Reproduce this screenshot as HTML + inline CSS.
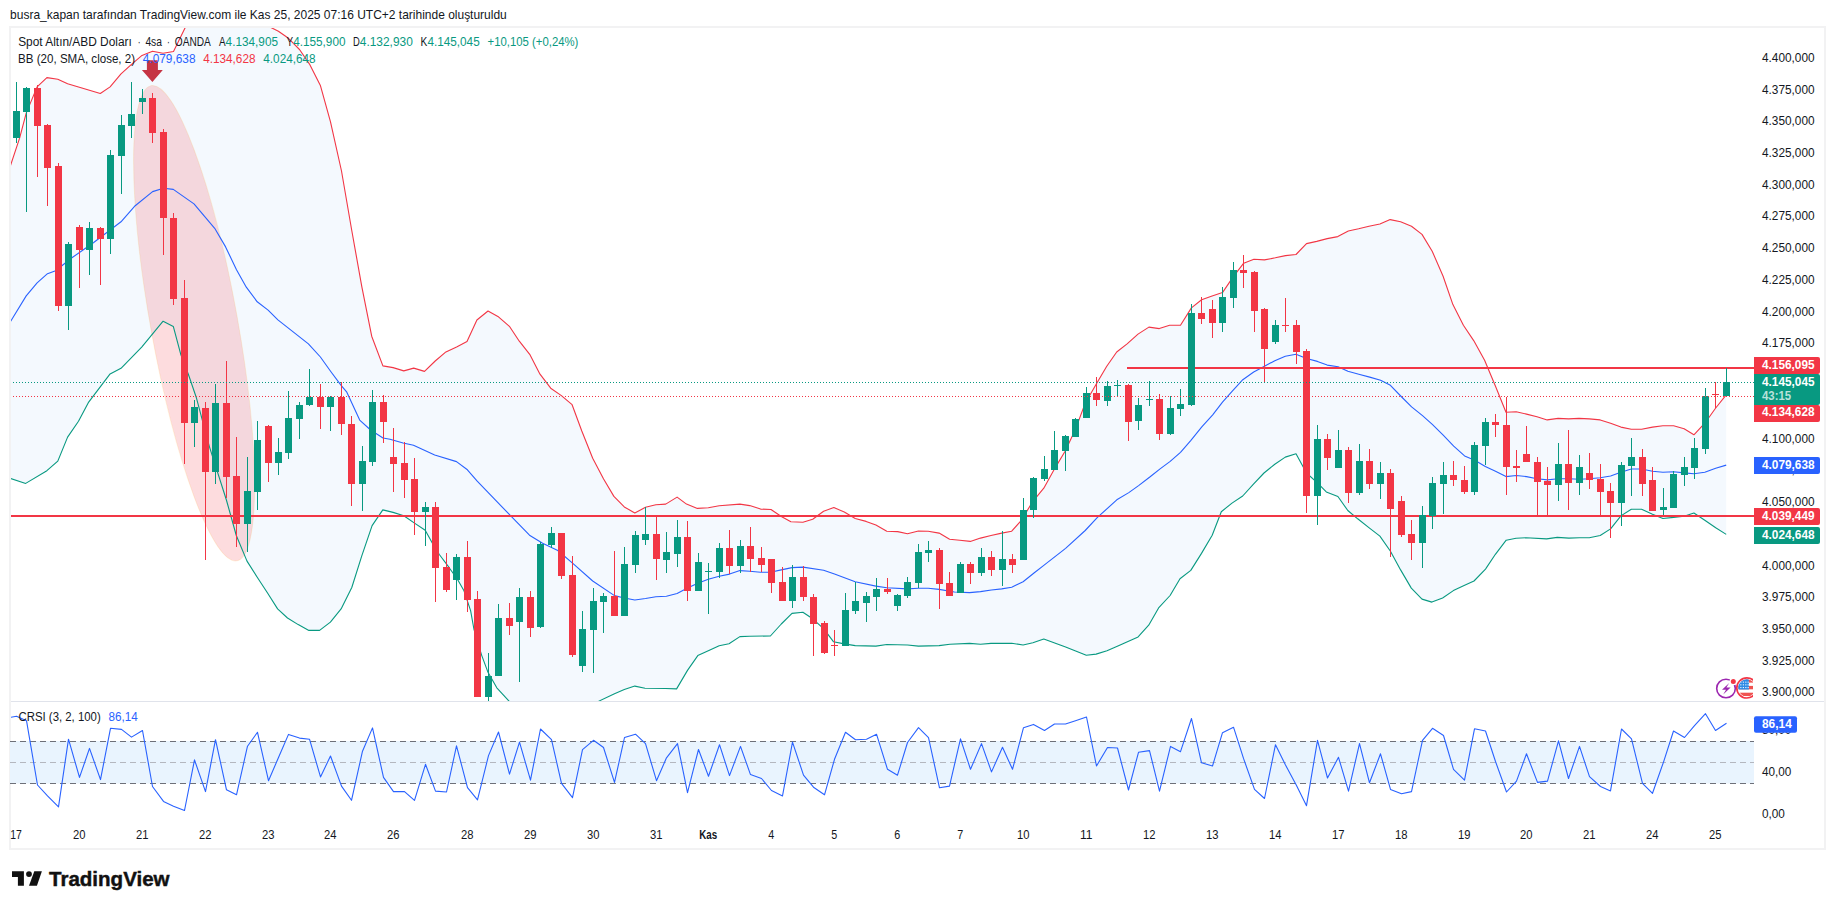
<!DOCTYPE html>
<html><head><meta charset="utf-8"><title>chart</title>
<style>html,body{margin:0;padding:0;background:#fff}body{width:1835px;height:909px;overflow:hidden;position:relative}svg{position:absolute;left:0;top:0;display:block}svg{font-family:"Liberation Sans",sans-serif;font-size:12px;fill:#131722}text{font-family:"Liberation Sans",sans-serif}.b{font-weight:bold}.w{fill:#fff}</style></head><body>
<svg width="1835" height="909" viewBox="0 0 1835 909">
<defs><clipPath id="main"><rect x="11" y="28" width="1743" height="673"/></clipPath><clipPath id="sub"><rect x="11" y="702" width="1743" height="120"/></clipPath><clipPath id="flag"><circle cx="1746.9" cy="687.9" r="8.6"/></clipPath><clipPath id="flagc"><rect x="1730" y="670" width="23" height="31"/></clipPath></defs>
<rect width="1835" height="909" fill="#fff"/>
<text x="10.1" y="19.2" font-size="13" textLength="496.7" lengthAdjust="spacingAndGlyphs">busra_kapan tarafından TradingView.com ile Kas 25, 2025 07:16 UTC+2 tarihinde oluşturuldu</text>
<rect x="10" y="27" width="1815" height="822" fill="none" stroke="#f2f2f3" stroke-width="2"/>
<rect x="11" y="701" width="1813" height="1" fill="#e0e3eb"/>
<g clip-path="url(#main)">
<polygon points="10.2,166.5 19.6,138.2 26.2,113.1 37.1,86.9 46.9,77.6 57.8,79.3 67.6,83.7 100.3,93.5 110.1,86.9 121,73.9 131.5,64.3 142,55.4 152.5,51.3 163,53.2 173.5,51.5 185.5,27 200,2 228,-8 255,2 269.9,27 278.4,31.2 288.5,38.3 299.5,49.5 309.5,64.1 320.5,85.8 330.5,121.8 341.5,171 351.5,229 361.9,287.2 371.7,336.2 382.9,365.9 393.1,367.6 403.8,370.9 413.7,368.1 424.5,371.4 435.2,361 445.9,351.9 456.6,346.9 467,341.5 476.9,320 488,311 497.9,316.4 509.4,326.3 519.3,341.2 530.1,354.9 540,374.2 550.7,388.2 561.4,395.6 572.1,404.7 581.8,431 592.7,458.3 603.6,479 613.9,496.4 624.3,506.9 634.8,513 645.5,507.3 655.9,504.7 665.7,504.1 677.1,497.1 686.5,504.1 697.4,508.4 708.3,507.8 719.2,505.8 739.9,504.1 749.7,505.6 760.6,509.1 771,509.5 781.3,516.5 790.9,521.8 802.9,522.2 812.7,519.2 823.6,511.3 833.8,507.6 844.3,512 855.2,518.5 866.1,521.4 875.9,525.1 886.8,531.2 897.7,531.6 907.5,533.8 918.4,531 928.2,531.2 939.1,533.1 949.6,539.2 959.8,540.3 970.3,541.4 980.5,538.1 991,535.5 1001.7,533.1 1011.7,531.2 1020.9,520.9 1032.9,501.3 1043.8,488.2 1054.7,468.6 1065.1,451.2 1075.4,429.4 1085.2,403.2 1096.3,384 1106.6,366.5 1116.7,352 1127.1,343.9 1138,334.1 1148.9,327.1 1159.3,328.6 1169.6,325.3 1180.5,325.3 1191.4,307.9 1201.6,299.8 1212.1,295.9 1222.5,292.6 1232.8,277.4 1243.7,263.2 1253.9,259.3 1264.4,259.9 1275.3,257.8 1285.5,255.6 1296,254.5 1306.5,243.6 1316.7,241.4 1327.2,238.6 1337.8,236.6 1348.3,231 1358.6,228.8 1369,226.2 1379.9,224 1390.2,219.6 1400.6,221.8 1411.5,226.2 1422,234.4 1432.2,251.2 1443.1,276.3 1452.9,304.6 1463.4,325.3 1473.7,340.6 1484.6,360.2 1495.5,386.2 1506,412.3 1516.2,411.7 1526.5,414.1 1537,416.7 1547.2,419.9 1558.1,418.4 1568.6,418.9 1579,418.4 1589.3,418.9 1600.2,419.9 1610.6,423.2 1620.9,427.1 1631.3,429.3 1641.6,429.3 1652.5,427.1 1662.9,425.8 1673.6,425.8 1684.1,428.7 1693.9,434.8 1704.8,423.2 1715.7,408 1726.2,394.9 1726.2,534.4 1715.7,527.8 1704.8,520.2 1693.9,513 1684.1,516.3 1673.6,517.4 1662.9,518.5 1652.5,514.3 1641.6,509.3 1631.3,509.3 1620.9,515.9 1610.6,528.9 1600.2,535.5 1589.3,537.7 1579.5,537.7 1568.9,538.1 1557.3,537.4 1546.6,538.9 1526,537.8 1516.1,538.3 1506.2,540.2 1495.4,554.3 1485.5,569.1 1474,581 1464.1,585.6 1453.4,590.6 1442.6,598 1431.9,602.1 1422,599.1 1411.3,588.1 1400.6,569.9 1390.3,551 1379.9,536.1 1369.2,527.9 1357.7,518.8 1347.8,510.5 1337.9,496.5 1326.3,491.9 1317.4,482.8 1306.5,473 1296,453.8 1285.3,457.1 1274.8,464.3 1264,473 1253.7,483.9 1242.7,496 1232,503.1 1221.3,511.7 1212.2,535.3 1201.5,553.4 1190.8,570.4 1180,578.7 1170.1,595.5 1158.6,607.9 1148.7,625.2 1138.1,636.9 1117.9,646.1 1107,650.8 1096.1,654.1 1086.3,655.2 1065.6,647.1 1043.8,639.1 1032.9,642.8 1023.1,645 1011.7,643.2 991,643.4 980.5,644.3 969.6,643.4 950,644.3 939.1,645.6 918.4,646.1 907.5,645 886.8,644.5 875.9,646.1 855.2,645.6 844.3,643.9 833.4,641.7 823.6,628.6 812.7,618.8 802.9,612.3 792,613.4 781.3,624 770.4,636 749.7,636.2 739.9,636.6 729,643.8 719.2,645.8 708.3,650.8 697.8,655.6 687.5,670.4 676.6,688.9 665.7,688.5 645,688.3 634.8,686.1 624.3,689.6 614.5,693.7 599.3,700.9 580,715 555,722 530,715 508.8,700.9 496.8,687.8 488.1,672.6 481.6,655.1 473.9,629 470.6,610.6 464,590.8 457.4,579.2 449.2,567.7 439.3,554.5 432.7,543.7 425.2,530.2 414.5,523.1 403.8,515.7 393.1,512.4 382.8,509.9 372.1,525.6 361.7,556.1 351.8,587.5 341.1,608.9 330.4,622.1 319.6,630.4 308.9,630.4 298.2,624.6 287.5,618 277.6,608.9 267.7,593.2 256.9,576.7 247,561.1 236.3,535.5 226.4,500 209.3,446.3 196.2,397.2 188.6,375 180.9,354.8 173.3,326.4 163.1,321.2 141.7,347.1 121,368.3 110.1,373.9 88.3,402.7 78.5,421.2 67.6,437.1 57.8,461.1 46.9,470.7 25.7,483.4 10.2,478.3" fill="#f4f9fe"/>
<ellipse cx="0" cy="0" rx="43.5" ry="241.4" transform="translate(194.1,323.2) rotate(-10.21)" fill="rgba(242,54,69,0.175)" stroke="rgba(255,152,0,0.13)" stroke-width="1"/>
<polyline points="10.2,166.5 19.6,138.2 26.2,113.1 37.1,86.9 46.9,77.6 57.8,79.3 67.6,83.7 100.3,93.5 110.1,86.9 121,73.9 131.5,64.3 142,55.4 152.5,51.3 163,53.2 173.5,51.5 185.5,27 200,2 228,-8 255,2 269.9,27 278.4,31.2 288.5,38.3 299.5,49.5 309.5,64.1 320.5,85.8 330.5,121.8 341.5,171 351.5,229 361.9,287.2 371.7,336.2 382.9,365.9 393.1,367.6 403.8,370.9 413.7,368.1 424.5,371.4 435.2,361 445.9,351.9 456.6,346.9 467,341.5 476.9,320 488,311 497.9,316.4 509.4,326.3 519.3,341.2 530.1,354.9 540,374.2 550.7,388.2 561.4,395.6 572.1,404.7 581.8,431 592.7,458.3 603.6,479 613.9,496.4 624.3,506.9 634.8,513 645.5,507.3 655.9,504.7 665.7,504.1 677.1,497.1 686.5,504.1 697.4,508.4 708.3,507.8 719.2,505.8 739.9,504.1 749.7,505.6 760.6,509.1 771,509.5 781.3,516.5 790.9,521.8 802.9,522.2 812.7,519.2 823.6,511.3 833.8,507.6 844.3,512 855.2,518.5 866.1,521.4 875.9,525.1 886.8,531.2 897.7,531.6 907.5,533.8 918.4,531 928.2,531.2 939.1,533.1 949.6,539.2 959.8,540.3 970.3,541.4 980.5,538.1 991,535.5 1001.7,533.1 1011.7,531.2 1020.9,520.9 1032.9,501.3 1043.8,488.2 1054.7,468.6 1065.1,451.2 1075.4,429.4 1085.2,403.2 1096.3,384 1106.6,366.5 1116.7,352 1127.1,343.9 1138,334.1 1148.9,327.1 1159.3,328.6 1169.6,325.3 1180.5,325.3 1191.4,307.9 1201.6,299.8 1212.1,295.9 1222.5,292.6 1232.8,277.4 1243.7,263.2 1253.9,259.3 1264.4,259.9 1275.3,257.8 1285.5,255.6 1296,254.5 1306.5,243.6 1316.7,241.4 1327.2,238.6 1337.8,236.6 1348.3,231 1358.6,228.8 1369,226.2 1379.9,224 1390.2,219.6 1400.6,221.8 1411.5,226.2 1422,234.4 1432.2,251.2 1443.1,276.3 1452.9,304.6 1463.4,325.3 1473.7,340.6 1484.6,360.2 1495.5,386.2 1506,412.3 1516.2,411.7 1526.5,414.1 1537,416.7 1547.2,419.9 1558.1,418.4 1568.6,418.9 1579,418.4 1589.3,418.9 1600.2,419.9 1610.6,423.2 1620.9,427.1 1631.3,429.3 1641.6,429.3 1652.5,427.1 1662.9,425.8 1673.6,425.8 1684.1,428.7 1693.9,434.8 1704.8,423.2 1715.7,408 1726.2,394.9" fill="none" stroke="#f23645" stroke-width="1.1" stroke-linejoin="round"/>
<polyline points="10.2,478.3 25.7,483.4 46.9,470.7 57.8,461.1 67.6,437.1 78.5,421.2 88.3,402.7 110.1,373.9 121,368.3 141.7,347.1 163.1,321.2 173.3,326.4 180.9,354.8 188.6,375 196.2,397.2 209.3,446.3 226.4,500 236.3,535.5 247,561.1 256.9,576.7 267.7,593.2 277.6,608.9 287.5,618 298.2,624.6 308.9,630.4 319.6,630.4 330.4,622.1 341.1,608.9 351.8,587.5 361.7,556.1 372.1,525.6 382.8,509.9 393.1,512.4 403.8,515.7 414.5,523.1 425.2,530.2 432.7,543.7 439.3,554.5 449.2,567.7 457.4,579.2 464,590.8 470.6,610.6 473.9,629 481.6,655.1 488.1,672.6 496.8,687.8 508.8,700.9 530,715 555,722 580,715 599.3,700.9 614.5,693.7 624.3,689.6 634.8,686.1 645,688.3 665.7,688.5 676.6,688.9 687.5,670.4 697.8,655.6 708.3,650.8 719.2,645.8 729,643.8 739.9,636.6 749.7,636.2 770.4,636 781.3,624 792,613.4 802.9,612.3 812.7,618.8 823.6,628.6 833.4,641.7 844.3,643.9 855.2,645.6 875.9,646.1 886.8,644.5 907.5,645 918.4,646.1 939.1,645.6 950,644.3 969.6,643.4 980.5,644.3 991,643.4 1011.7,643.2 1023.1,645 1032.9,642.8 1043.8,639.1 1065.6,647.1 1086.3,655.2 1096.1,654.1 1107,650.8 1117.9,646.1 1138.1,636.9 1148.7,625.2 1158.6,607.9 1170.1,595.5 1180,578.7 1190.8,570.4 1201.5,553.4 1212.2,535.3 1221.3,511.7 1232,503.1 1242.7,496 1253.7,483.9 1264,473 1274.8,464.3 1285.3,457.1 1296,453.8 1306.5,473 1317.4,482.8 1326.3,491.9 1337.9,496.5 1347.8,510.5 1357.7,518.8 1369.2,527.9 1379.9,536.1 1390.3,551 1400.6,569.9 1411.3,588.1 1422,599.1 1431.9,602.1 1442.6,598 1453.4,590.6 1464.1,585.6 1474,581 1485.5,569.1 1495.4,554.3 1506.2,540.2 1516.1,538.3 1526,537.8 1546.6,538.9 1557.3,537.4 1568.9,538.1 1579.5,537.7 1589.3,537.7 1600.2,535.5 1610.6,528.9 1620.9,515.9 1631.3,509.3 1641.6,509.3 1652.5,514.3 1662.9,518.5 1673.6,517.4 1684.1,516.3 1693.9,513 1704.8,520.2 1715.7,527.8 1726.2,534.4" fill="none" stroke="#089981" stroke-width="1.1" stroke-linejoin="round"/>
<polyline points="10.2,322.1 26.2,295.9 37.1,282.8 47.5,273.7 55.6,270.8 71.9,257.8 93.7,242.5 121,221.8 135.2,205.7 152.6,191.6 163.5,188.3 173.3,189.4 194,203.9 214.7,228.3 225.6,246.9 236.5,269.8 246.3,287.2 257.2,301.8 268.1,310.1 277.9,319.9 308.4,343.9 320.4,357 331.3,372.2 341.1,385.3 346.6,391.8 359.7,420.1 370.6,430 383,438 390,439.3 403.1,443 413.5,445.2 434.7,455 456.5,461.6 467.4,469.8 477.2,481.2 508.8,513.9 529.5,535.2 542.6,543.3 557.8,550.5 573.1,563.6 592.7,581 614.5,595.6 624.3,598 634.8,600 645.5,598.5 655.9,596.7 666.4,596.3 677.1,593.5 687.5,588 697.8,583.2 708.3,579.3 719.2,576.2 729.6,574.1 739.9,570.6 749.7,571.2 760.6,572.3 770.4,572.3 781.3,569.9 792,567.6 802.9,567.1 823.6,570.2 834.5,574.1 855.2,581.7 875.9,586.1 886.8,587.8 907.5,588.9 918.4,588.3 928.2,588.3 939.1,589.4 954.4,592 969.6,592.6 980.5,591.6 991.4,590 1001.7,588.9 1011.7,587.2 1023.1,581.7 1034,573 1043.8,565.4 1065.6,548.4 1085.2,530.5 1097.2,517.7 1116.8,499.8 1128.8,492.6 1138.6,485.6 1149.5,477.3 1160.4,468.6 1170.2,461.4 1180.5,452.3 1190.9,440.3 1201.8,426.8 1212.7,414.8 1222.5,402.1 1232.3,391.2 1242.8,379.7 1253.7,372 1264,366.6 1274.8,360.7 1285.3,356.3 1296,354.2 1306.5,358.5 1317.4,361.4 1327.2,365.1 1338.1,366.8 1347.9,371.2 1358.8,374.2 1369.7,377.1 1380.6,380.3 1390.4,385.3 1400.7,396 1411.6,406.9 1422.5,415.6 1432.3,424.3 1443.2,435.2 1453.7,446.1 1464.6,455.9 1474.8,460.3 1485.3,466.4 1495.5,471.2 1506,476.6 1516.2,475.5 1526.5,476.6 1537,478.8 1547.4,479.9 1558.3,478.8 1568.6,478.8 1579.5,479.2 1589.3,478.8 1600.2,477.7 1610.6,476 1620.9,472.3 1631.3,469 1641.6,469 1652.5,471.2 1662.9,472.3 1673.6,471.8 1684.1,472.9 1693.9,473.8 1704.8,472.3 1715.7,468.3 1726.2,465.1" fill="none" stroke="#2962ff" stroke-width="1.1" stroke-linejoin="round"/>
<rect x="10" y="515" width="1744" height="2" fill="#f23645"/>
<rect x="1127" y="367" width="627" height="2" fill="#f23645"/>
<g shape-rendering="crispEdges">
<rect x="16" y="82" width="1" height="61" fill="#089981"/><rect x="13" y="111" width="7" height="27" fill="#089981"/>
<rect x="26" y="87" width="1" height="125" fill="#089981"/><rect x="23" y="88" width="7" height="24" fill="#089981"/>
<rect x="37" y="85" width="1" height="92" fill="#f23645"/><rect x="34" y="88" width="7" height="38" fill="#f23645"/>
<rect x="47" y="124" width="1" height="82" fill="#f23645"/><rect x="44" y="125" width="7" height="43" fill="#f23645"/>
<rect x="58" y="163" width="1" height="148" fill="#f23645"/><rect x="55" y="166" width="7" height="140" fill="#f23645"/>
<rect x="68" y="242" width="1" height="88" fill="#089981"/><rect x="65" y="244" width="7" height="62" fill="#089981"/>
<rect x="79" y="225" width="1" height="63" fill="#f23645"/><rect x="76" y="227" width="7" height="23" fill="#f23645"/>
<rect x="89" y="222" width="1" height="53" fill="#089981"/><rect x="86" y="228" width="7" height="22" fill="#089981"/>
<rect x="100" y="227" width="1" height="58" fill="#f23645"/><rect x="97" y="228" width="7" height="11" fill="#f23645"/>
<rect x="110" y="150" width="1" height="104" fill="#089981"/><rect x="107" y="155" width="7" height="84" fill="#089981"/>
<rect x="121" y="115" width="1" height="79" fill="#089981"/><rect x="118" y="125" width="7" height="31" fill="#089981"/>
<rect x="131" y="82" width="1" height="56" fill="#089981"/><rect x="128" y="114" width="7" height="12" fill="#089981"/>
<rect x="142" y="89" width="1" height="25" fill="#089981"/><rect x="139" y="98" width="7" height="4" fill="#089981"/>
<rect x="152" y="93" width="1" height="50" fill="#f23645"/><rect x="149" y="98" width="7" height="35" fill="#f23645"/>
<rect x="163" y="129" width="1" height="126" fill="#f23645"/><rect x="160" y="132" width="7" height="86" fill="#f23645"/>
<rect x="173" y="213" width="1" height="92" fill="#f23645"/><rect x="170" y="218" width="7" height="81" fill="#f23645"/>
<rect x="184" y="280" width="1" height="184" fill="#f23645"/><rect x="181" y="298" width="7" height="125" fill="#f23645"/>
<rect x="194" y="400" width="1" height="47" fill="#089981"/><rect x="191" y="407" width="7" height="16" fill="#089981"/>
<rect x="205" y="402" width="1" height="158" fill="#f23645"/><rect x="202" y="408" width="7" height="64" fill="#f23645"/>
<rect x="215" y="384" width="1" height="100" fill="#089981"/><rect x="212" y="403" width="7" height="69" fill="#089981"/>
<rect x="226" y="361" width="1" height="137" fill="#f23645"/><rect x="223" y="403" width="7" height="74" fill="#f23645"/>
<rect x="236" y="437" width="1" height="110" fill="#f23645"/><rect x="233" y="476" width="7" height="48" fill="#f23645"/>
<rect x="247" y="457" width="1" height="95" fill="#089981"/><rect x="244" y="491" width="7" height="33" fill="#089981"/>
<rect x="257" y="421" width="1" height="89" fill="#089981"/><rect x="254" y="440" width="7" height="52" fill="#089981"/>
<rect x="268" y="425" width="1" height="57" fill="#f23645"/><rect x="265" y="426" width="7" height="37" fill="#f23645"/>
<rect x="278" y="438" width="1" height="37" fill="#089981"/><rect x="275" y="452" width="7" height="11" fill="#089981"/>
<rect x="288" y="391" width="1" height="68" fill="#089981"/><rect x="285" y="418" width="7" height="35" fill="#089981"/>
<rect x="299" y="402" width="1" height="37" fill="#089981"/><rect x="296" y="405" width="7" height="14" fill="#089981"/>
<rect x="309" y="369" width="1" height="37" fill="#089981"/><rect x="306" y="397" width="7" height="8" fill="#089981"/>
<rect x="320" y="384" width="1" height="45" fill="#f23645"/><rect x="317" y="397" width="7" height="10" fill="#f23645"/>
<rect x="330" y="396" width="1" height="35" fill="#089981"/><rect x="327" y="397" width="7" height="10" fill="#089981"/>
<rect x="341" y="382" width="1" height="53" fill="#f23645"/><rect x="338" y="397" width="7" height="27" fill="#f23645"/>
<rect x="351" y="416" width="1" height="90" fill="#f23645"/><rect x="348" y="424" width="7" height="60" fill="#f23645"/>
<rect x="362" y="446" width="1" height="65" fill="#089981"/><rect x="359" y="461" width="7" height="23" fill="#089981"/>
<rect x="372" y="390" width="1" height="76" fill="#089981"/><rect x="369" y="402" width="7" height="60" fill="#089981"/>
<rect x="383" y="395" width="1" height="48" fill="#f23645"/><rect x="380" y="402" width="7" height="20" fill="#f23645"/>
<rect x="393" y="428" width="1" height="64" fill="#f23645"/><rect x="390" y="457" width="7" height="7" fill="#f23645"/>
<rect x="404" y="442" width="1" height="56" fill="#f23645"/><rect x="401" y="463" width="7" height="17" fill="#f23645"/>
<rect x="414" y="458" width="1" height="77" fill="#f23645"/><rect x="411" y="479" width="7" height="33" fill="#f23645"/>
<rect x="425" y="502" width="1" height="44" fill="#089981"/><rect x="422" y="507" width="7" height="5" fill="#089981"/>
<rect x="435" y="502" width="1" height="100" fill="#f23645"/><rect x="432" y="507" width="7" height="61" fill="#f23645"/>
<rect x="446" y="553" width="1" height="39" fill="#f23645"/><rect x="443" y="567" width="7" height="23" fill="#f23645"/>
<rect x="456" y="554" width="1" height="46" fill="#089981"/><rect x="453" y="557" width="7" height="23" fill="#089981"/>
<rect x="467" y="541" width="1" height="71" fill="#f23645"/><rect x="464" y="557" width="7" height="43" fill="#f23645"/>
<rect x="477" y="591" width="1" height="106" fill="#f23645"/><rect x="474" y="599" width="7" height="98" fill="#f23645"/>
<rect x="488" y="653" width="1" height="48" fill="#089981"/><rect x="485" y="676" width="7" height="21" fill="#089981"/>
<rect x="498" y="604" width="1" height="72" fill="#089981"/><rect x="495" y="618" width="7" height="58" fill="#089981"/>
<rect x="509" y="603" width="1" height="32" fill="#f23645"/><rect x="506" y="618" width="7" height="8" fill="#f23645"/>
<rect x="519" y="588" width="1" height="94" fill="#089981"/><rect x="516" y="597" width="7" height="25" fill="#089981"/>
<rect x="530" y="591" width="1" height="46" fill="#f23645"/><rect x="527" y="597" width="7" height="31" fill="#f23645"/>
<rect x="540" y="542" width="1" height="86" fill="#089981"/><rect x="537" y="544" width="7" height="83" fill="#089981"/>
<rect x="551" y="527" width="1" height="21" fill="#089981"/><rect x="548" y="533" width="7" height="12" fill="#089981"/>
<rect x="561" y="533" width="1" height="46" fill="#f23645"/><rect x="558" y="533" width="7" height="43" fill="#f23645"/>
<rect x="572" y="556" width="1" height="101" fill="#f23645"/><rect x="569" y="575" width="7" height="80" fill="#f23645"/>
<rect x="582" y="611" width="1" height="61" fill="#089981"/><rect x="579" y="629" width="7" height="37" fill="#089981"/>
<rect x="593" y="588" width="1" height="85" fill="#089981"/><rect x="590" y="601" width="7" height="29" fill="#089981"/>
<rect x="603" y="593" width="1" height="40" fill="#089981"/><rect x="600" y="596" width="7" height="6" fill="#089981"/>
<rect x="614" y="551" width="1" height="65" fill="#f23645"/><rect x="611" y="596" width="7" height="20" fill="#f23645"/>
<rect x="624" y="547" width="1" height="69" fill="#089981"/><rect x="621" y="564" width="7" height="52" fill="#089981"/>
<rect x="635" y="531" width="1" height="42" fill="#089981"/><rect x="632" y="535" width="7" height="30" fill="#089981"/>
<rect x="645" y="507" width="1" height="38" fill="#089981"/><rect x="642" y="534" width="7" height="6" fill="#089981"/>
<rect x="656" y="516" width="1" height="64" fill="#f23645"/><rect x="653" y="534" width="7" height="25" fill="#f23645"/>
<rect x="666" y="532" width="1" height="41" fill="#089981"/><rect x="663" y="552" width="7" height="8" fill="#089981"/>
<rect x="677" y="520" width="1" height="47" fill="#089981"/><rect x="674" y="537" width="7" height="17" fill="#089981"/>
<rect x="687" y="521" width="1" height="80" fill="#f23645"/><rect x="684" y="537" width="7" height="54" fill="#f23645"/>
<rect x="698" y="553" width="1" height="38" fill="#089981"/><rect x="695" y="562" width="7" height="29" fill="#089981"/>
<rect x="708" y="563" width="1" height="51" fill="#089981"/><rect x="705" y="571" width="7" height="1" fill="#089981"/>
<rect x="719" y="543" width="1" height="35" fill="#089981"/><rect x="716" y="548" width="7" height="24" fill="#089981"/>
<rect x="729" y="530" width="1" height="44" fill="#f23645"/><rect x="726" y="548" width="7" height="18" fill="#f23645"/>
<rect x="740" y="540" width="1" height="33" fill="#089981"/><rect x="737" y="546" width="7" height="20" fill="#089981"/>
<rect x="750" y="527" width="1" height="45" fill="#f23645"/><rect x="747" y="546" width="7" height="13" fill="#f23645"/>
<rect x="761" y="547" width="1" height="25" fill="#f23645"/><rect x="758" y="558" width="7" height="7" fill="#f23645"/>
<rect x="771" y="559" width="1" height="34" fill="#f23645"/><rect x="768" y="559" width="7" height="24" fill="#f23645"/>
<rect x="782" y="567" width="1" height="34" fill="#f23645"/><rect x="779" y="582" width="7" height="19" fill="#f23645"/>
<rect x="792" y="565" width="1" height="43" fill="#089981"/><rect x="789" y="577" width="7" height="24" fill="#089981"/>
<rect x="803" y="566" width="1" height="35" fill="#f23645"/><rect x="800" y="577" width="7" height="20" fill="#f23645"/>
<rect x="813" y="594" width="1" height="62" fill="#f23645"/><rect x="810" y="597" width="7" height="27" fill="#f23645"/>
<rect x="824" y="621" width="1" height="33" fill="#f23645"/><rect x="821" y="623" width="7" height="30" fill="#f23645"/>
<rect x="834" y="630" width="1" height="26" fill="#f23645"/><rect x="831" y="645" width="7" height="1" fill="#f23645"/>
<rect x="845" y="593" width="1" height="53" fill="#089981"/><rect x="842" y="610" width="7" height="36" fill="#089981"/>
<rect x="855" y="582" width="1" height="32" fill="#089981"/><rect x="852" y="601" width="7" height="10" fill="#089981"/>
<rect x="866" y="592" width="1" height="30" fill="#089981"/><rect x="863" y="596" width="7" height="7" fill="#089981"/>
<rect x="876" y="578" width="1" height="33" fill="#089981"/><rect x="873" y="589" width="7" height="8" fill="#089981"/>
<rect x="887" y="578" width="1" height="16" fill="#f23645"/><rect x="884" y="589" width="7" height="3" fill="#f23645"/>
<rect x="897" y="594" width="1" height="17" fill="#089981"/><rect x="894" y="595" width="7" height="11" fill="#089981"/>
<rect x="907" y="577" width="1" height="21" fill="#089981"/><rect x="904" y="582" width="7" height="14" fill="#089981"/>
<rect x="918" y="544" width="1" height="44" fill="#089981"/><rect x="915" y="552" width="7" height="31" fill="#089981"/>
<rect x="928" y="541" width="1" height="21" fill="#089981"/><rect x="925" y="550" width="7" height="3" fill="#089981"/>
<rect x="939" y="548" width="1" height="61" fill="#f23645"/><rect x="936" y="550" width="7" height="34" fill="#f23645"/>
<rect x="949" y="572" width="1" height="24" fill="#f23645"/><rect x="946" y="583" width="7" height="13" fill="#f23645"/>
<rect x="960" y="562" width="1" height="31" fill="#089981"/><rect x="957" y="564" width="7" height="29" fill="#089981"/>
<rect x="970" y="562" width="1" height="22" fill="#f23645"/><rect x="967" y="564" width="7" height="9" fill="#f23645"/>
<rect x="981" y="548" width="1" height="28" fill="#089981"/><rect x="978" y="557" width="7" height="16" fill="#089981"/>
<rect x="991" y="551" width="1" height="25" fill="#f23645"/><rect x="988" y="557" width="7" height="13" fill="#f23645"/>
<rect x="1002" y="531" width="1" height="55" fill="#089981"/><rect x="999" y="559" width="7" height="11" fill="#089981"/>
<rect x="1012" y="554" width="1" height="19" fill="#f23645"/><rect x="1009" y="559" width="7" height="6" fill="#f23645"/>
<rect x="1023" y="498" width="1" height="62" fill="#089981"/><rect x="1020" y="510" width="7" height="50" fill="#089981"/>
<rect x="1033" y="477" width="1" height="41" fill="#089981"/><rect x="1030" y="478" width="7" height="32" fill="#089981"/>
<rect x="1044" y="456" width="1" height="25" fill="#089981"/><rect x="1041" y="469" width="7" height="10" fill="#089981"/>
<rect x="1054" y="431" width="1" height="39" fill="#089981"/><rect x="1051" y="450" width="7" height="20" fill="#089981"/>
<rect x="1065" y="435" width="1" height="36" fill="#089981"/><rect x="1062" y="436" width="7" height="15" fill="#089981"/>
<rect x="1075" y="418" width="1" height="19" fill="#089981"/><rect x="1072" y="419" width="7" height="18" fill="#089981"/>
<rect x="1086" y="387" width="1" height="31" fill="#089981"/><rect x="1083" y="393" width="7" height="25" fill="#089981"/>
<rect x="1096" y="377" width="1" height="29" fill="#f23645"/><rect x="1093" y="393" width="7" height="7" fill="#f23645"/>
<rect x="1107" y="381" width="1" height="25" fill="#089981"/><rect x="1104" y="386" width="7" height="15" fill="#089981"/>
<rect x="1117" y="380" width="1" height="16" fill="#089981"/><rect x="1114" y="385" width="7" height="1" fill="#089981"/>
<rect x="1128" y="384" width="1" height="57" fill="#f23645"/><rect x="1125" y="385" width="7" height="37" fill="#f23645"/>
<rect x="1138" y="398" width="1" height="32" fill="#089981"/><rect x="1135" y="405" width="7" height="16" fill="#089981"/>
<rect x="1149" y="381" width="1" height="25" fill="#089981"/><rect x="1146" y="399" width="7" height="1" fill="#089981"/>
<rect x="1159" y="394" width="1" height="46" fill="#f23645"/><rect x="1156" y="399" width="7" height="35" fill="#f23645"/>
<rect x="1170" y="396" width="1" height="39" fill="#089981"/><rect x="1167" y="408" width="7" height="26" fill="#089981"/>
<rect x="1180" y="389" width="1" height="27" fill="#089981"/><rect x="1177" y="404" width="7" height="5" fill="#089981"/>
<rect x="1191" y="304" width="1" height="102" fill="#089981"/><rect x="1188" y="313" width="7" height="92" fill="#089981"/>
<rect x="1201" y="297" width="1" height="27" fill="#f23645"/><rect x="1198" y="313" width="7" height="6" fill="#f23645"/>
<rect x="1212" y="300" width="1" height="38" fill="#f23645"/><rect x="1209" y="309" width="7" height="14" fill="#f23645"/>
<rect x="1222" y="287" width="1" height="45" fill="#089981"/><rect x="1219" y="297" width="7" height="26" fill="#089981"/>
<rect x="1233" y="262" width="1" height="46" fill="#089981"/><rect x="1230" y="270" width="7" height="28" fill="#089981"/>
<rect x="1243" y="255" width="1" height="33" fill="#f23645"/><rect x="1240" y="270" width="7" height="3" fill="#f23645"/>
<rect x="1254" y="271" width="1" height="61" fill="#f23645"/><rect x="1251" y="272" width="7" height="39" fill="#f23645"/>
<rect x="1264" y="308" width="1" height="74" fill="#f23645"/><rect x="1261" y="309" width="7" height="40" fill="#f23645"/>
<rect x="1275" y="320" width="1" height="24" fill="#089981"/><rect x="1272" y="325" width="7" height="17" fill="#089981"/>
<rect x="1285" y="298" width="1" height="34" fill="#f23645"/><rect x="1282" y="325" width="7" height="1" fill="#f23645"/>
<rect x="1296" y="320" width="1" height="44" fill="#f23645"/><rect x="1293" y="325" width="7" height="27" fill="#f23645"/>
<rect x="1306" y="349" width="1" height="164" fill="#f23645"/><rect x="1303" y="351" width="7" height="145" fill="#f23645"/>
<rect x="1317" y="425" width="1" height="100" fill="#089981"/><rect x="1314" y="439" width="7" height="57" fill="#089981"/>
<rect x="1327" y="434" width="1" height="36" fill="#f23645"/><rect x="1324" y="439" width="7" height="19" fill="#f23645"/>
<rect x="1338" y="430" width="1" height="38" fill="#089981"/><rect x="1335" y="450" width="7" height="18" fill="#089981"/>
<rect x="1348" y="447" width="1" height="56" fill="#f23645"/><rect x="1345" y="450" width="7" height="43" fill="#f23645"/>
<rect x="1359" y="444" width="1" height="51" fill="#089981"/><rect x="1356" y="461" width="7" height="32" fill="#089981"/>
<rect x="1369" y="449" width="1" height="40" fill="#f23645"/><rect x="1366" y="461" width="7" height="23" fill="#f23645"/>
<rect x="1380" y="462" width="1" height="37" fill="#089981"/><rect x="1377" y="473" width="7" height="11" fill="#089981"/>
<rect x="1390" y="469" width="1" height="88" fill="#f23645"/><rect x="1387" y="473" width="7" height="36" fill="#f23645"/>
<rect x="1401" y="496" width="1" height="41" fill="#f23645"/><rect x="1398" y="501" width="7" height="34" fill="#f23645"/>
<rect x="1411" y="520" width="1" height="40" fill="#f23645"/><rect x="1408" y="534" width="7" height="9" fill="#f23645"/>
<rect x="1422" y="506" width="1" height="62" fill="#089981"/><rect x="1419" y="515" width="7" height="28" fill="#089981"/>
<rect x="1432" y="477" width="1" height="52" fill="#089981"/><rect x="1429" y="483" width="7" height="33" fill="#089981"/>
<rect x="1443" y="462" width="1" height="52" fill="#089981"/><rect x="1440" y="475" width="7" height="9" fill="#089981"/>
<rect x="1453" y="461" width="1" height="25" fill="#f23645"/><rect x="1450" y="475" width="7" height="5" fill="#f23645"/>
<rect x="1464" y="466" width="1" height="28" fill="#f23645"/><rect x="1461" y="480" width="7" height="12" fill="#f23645"/>
<rect x="1474" y="442" width="1" height="53" fill="#089981"/><rect x="1471" y="445" width="7" height="47" fill="#089981"/>
<rect x="1485" y="418" width="1" height="47" fill="#089981"/><rect x="1482" y="422" width="7" height="24" fill="#089981"/>
<rect x="1495" y="414" width="1" height="23" fill="#f23645"/><rect x="1492" y="422" width="7" height="3" fill="#f23645"/>
<rect x="1506" y="397" width="1" height="98" fill="#f23645"/><rect x="1503" y="425" width="7" height="42" fill="#f23645"/>
<rect x="1516" y="450" width="1" height="32" fill="#f23645"/><rect x="1513" y="466" width="7" height="2" fill="#f23645"/>
<rect x="1526" y="426" width="1" height="36" fill="#f23645"/><rect x="1523" y="454" width="7" height="8" fill="#f23645"/>
<rect x="1537" y="457" width="1" height="58" fill="#f23645"/><rect x="1534" y="462" width="7" height="20" fill="#f23645"/>
<rect x="1547" y="467" width="1" height="48" fill="#f23645"/><rect x="1544" y="481" width="7" height="4" fill="#f23645"/>
<rect x="1558" y="443" width="1" height="58" fill="#089981"/><rect x="1555" y="464" width="7" height="21" fill="#089981"/>
<rect x="1568" y="430" width="1" height="80" fill="#f23645"/><rect x="1565" y="464" width="7" height="19" fill="#f23645"/>
<rect x="1579" y="455" width="1" height="40" fill="#089981"/><rect x="1576" y="467" width="7" height="16" fill="#089981"/>
<rect x="1589" y="453" width="1" height="36" fill="#f23645"/><rect x="1586" y="473" width="7" height="7" fill="#f23645"/>
<rect x="1600" y="464" width="1" height="51" fill="#f23645"/><rect x="1597" y="479" width="7" height="13" fill="#f23645"/>
<rect x="1610" y="483" width="1" height="55" fill="#f23645"/><rect x="1607" y="491" width="7" height="12" fill="#f23645"/>
<rect x="1621" y="462" width="1" height="64" fill="#089981"/><rect x="1618" y="465" width="7" height="38" fill="#089981"/>
<rect x="1631" y="438" width="1" height="58" fill="#089981"/><rect x="1628" y="457" width="7" height="9" fill="#089981"/>
<rect x="1642" y="449" width="1" height="47" fill="#f23645"/><rect x="1639" y="457" width="7" height="27" fill="#f23645"/>
<rect x="1652" y="467" width="1" height="44" fill="#f23645"/><rect x="1649" y="480" width="7" height="31" fill="#f23645"/>
<rect x="1663" y="488" width="1" height="27" fill="#089981"/><rect x="1660" y="507" width="7" height="3" fill="#089981"/>
<rect x="1673" y="471" width="1" height="37" fill="#089981"/><rect x="1670" y="474" width="7" height="34" fill="#089981"/>
<rect x="1684" y="457" width="1" height="29" fill="#089981"/><rect x="1681" y="467" width="7" height="8" fill="#089981"/>
<rect x="1694" y="438" width="1" height="41" fill="#089981"/><rect x="1691" y="448" width="7" height="20" fill="#089981"/>
<rect x="1705" y="388" width="1" height="66" fill="#089981"/><rect x="1702" y="396" width="7" height="53" fill="#089981"/>
<rect x="1715" y="382" width="1" height="26" fill="#f23645"/><rect x="1712" y="394" width="7" height="1" fill="#f23645"/>
<rect x="1726" y="368" width="1" height="28" fill="#089981"/><rect x="1723" y="382" width="7" height="14" fill="#089981"/>
</g>
<line x1="10" y1="382.5" x2="1754" y2="382.5" stroke="#089981" stroke-width="1" stroke-dasharray="1 2" shape-rendering="crispEdges"/>
<line x1="10" y1="396.5" x2="1754" y2="396.5" stroke="#f23645" stroke-width="1" stroke-dasharray="1 2" shape-rendering="crispEdges"/>
<polygon points="146.9,60.3 157.9,60.3 157.9,69.9 162.8,69.9 152.4,82 141.9,69.9 146.9,69.9" fill="#c53444"/>
</g>
<text x="18.2" y="45.6" textLength="113.6" lengthAdjust="spacingAndGlyphs">Spot Altın/ABD Doları</text>
<text x="137.8" y="45.6" textLength="2.8" lengthAdjust="spacingAndGlyphs">·</text>
<text x="145.4" y="45.6" textLength="16.6" lengthAdjust="spacingAndGlyphs">4sa</text>
<text x="166.9" y="45.6" textLength="2.8" lengthAdjust="spacingAndGlyphs">·</text>
<text x="174.8" y="45.6" textLength="36" lengthAdjust="spacingAndGlyphs">OANDA</text>
<text x="219" y="45.6" textLength="6.6" lengthAdjust="spacingAndGlyphs">A</text>
<text x="225.6" y="45.6" textLength="52.4" lengthAdjust="spacingAndGlyphs" fill="#089981">4.134,905</text>
<text x="286.6" y="45.6" textLength="6.6" lengthAdjust="spacingAndGlyphs">Y</text>
<text x="293.2" y="45.6" textLength="52.3" lengthAdjust="spacingAndGlyphs" fill="#089981">4.155,900</text>
<text x="353" y="45.6" textLength="6.8" lengthAdjust="spacingAndGlyphs">D</text>
<text x="359.8" y="45.6" textLength="53" lengthAdjust="spacingAndGlyphs" fill="#089981">4.132,930</text>
<text x="420.6" y="45.6" textLength="6.8" lengthAdjust="spacingAndGlyphs">K</text>
<text x="427.4" y="45.6" textLength="52.3" lengthAdjust="spacingAndGlyphs" fill="#089981">4.145,045</text>
<text x="487.5" y="45.6" textLength="90.9" lengthAdjust="spacingAndGlyphs" fill="#089981">+10,105 (+0,24%)</text>
<text x="18.1" y="62.6" textLength="117" lengthAdjust="spacingAndGlyphs">BB (20, SMA, close, 2)</text>
<text x="142.8" y="62.6" textLength="52.7" lengthAdjust="spacingAndGlyphs" fill="#2962ff">4.079,638</text>
<text x="203.2" y="62.6" textLength="52.3" lengthAdjust="spacingAndGlyphs" fill="#f23645">4.134,628</text>
<text x="263.3" y="62.6" textLength="52.3" lengthAdjust="spacingAndGlyphs" fill="#089981">4.024,648</text>
<text x="1762" y="61.8" textLength="52.6" lengthAdjust="spacingAndGlyphs">4.400,000</text>
<text x="1762" y="93.5" textLength="52.6" lengthAdjust="spacingAndGlyphs">4.375,000</text>
<text x="1762" y="125.3" textLength="52.6" lengthAdjust="spacingAndGlyphs">4.350,000</text>
<text x="1762" y="157" textLength="52.6" lengthAdjust="spacingAndGlyphs">4.325,000</text>
<text x="1762" y="188.7" textLength="52.6" lengthAdjust="spacingAndGlyphs">4.300,000</text>
<text x="1762" y="220.4" textLength="52.6" lengthAdjust="spacingAndGlyphs">4.275,000</text>
<text x="1762" y="252.2" textLength="52.6" lengthAdjust="spacingAndGlyphs">4.250,000</text>
<text x="1762" y="283.9" textLength="52.6" lengthAdjust="spacingAndGlyphs">4.225,000</text>
<text x="1762" y="315.6" textLength="52.6" lengthAdjust="spacingAndGlyphs">4.200,000</text>
<text x="1762" y="347.4" textLength="52.6" lengthAdjust="spacingAndGlyphs">4.175,000</text>
<text x="1762" y="379.1" textLength="52.6" lengthAdjust="spacingAndGlyphs">4.150,000</text>
<text x="1762" y="410.8" textLength="52.6" lengthAdjust="spacingAndGlyphs">4.125,000</text>
<text x="1762" y="442.6" textLength="52.6" lengthAdjust="spacingAndGlyphs">4.100,000</text>
<text x="1762" y="474.3" textLength="52.6" lengthAdjust="spacingAndGlyphs">4.075,000</text>
<text x="1762" y="506" textLength="52.6" lengthAdjust="spacingAndGlyphs">4.050,000</text>
<text x="1762" y="537.8" textLength="52.6" lengthAdjust="spacingAndGlyphs">4.025,000</text>
<text x="1762" y="569.5" textLength="52.6" lengthAdjust="spacingAndGlyphs">4.000,000</text>
<text x="1762" y="601.2" textLength="52.6" lengthAdjust="spacingAndGlyphs">3.975,000</text>
<text x="1762" y="632.9" textLength="52.6" lengthAdjust="spacingAndGlyphs">3.950,000</text>
<text x="1762" y="664.7" textLength="52.6" lengthAdjust="spacingAndGlyphs">3.925,000</text>
<text x="1762" y="696.4" textLength="52.6" lengthAdjust="spacingAndGlyphs">3.900,000</text>
<path d="M1754,357 H1818 a2,2 0 0 1 2,2 V372 a2,2 0 0 1 -2,2 H1754 Z" fill="#f23645"/>
<text x="1762" y="368.8" class="w b" textLength="52.6" lengthAdjust="spacingAndGlyphs">4.156,095</text>
<path d="M1754,374 H1818 a2,2 0 0 1 2,2 V403 a2,2 0 0 1 -2,2 H1754 Z" fill="#089981"/>
<text x="1762" y="385.7" class="w b" textLength="52.6" lengthAdjust="spacingAndGlyphs">4.145,045</text>
<text x="1762" y="399.9" class="w b" textLength="29.2" lengthAdjust="spacingAndGlyphs" fill-opacity="0.72">43:15</text>
<path d="M1754,405 H1818 a2,2 0 0 1 2,2 V420 a2,2 0 0 1 -2,2 H1754 Z" fill="#f23645"/>
<text x="1762" y="416.1" class="w b" textLength="52.6" lengthAdjust="spacingAndGlyphs">4.134,628</text>
<path d="M1754,457 H1818 a2,2 0 0 1 2,2 V472 a2,2 0 0 1 -2,2 H1754 Z" fill="#2962ff"/>
<text x="1762" y="468.5" class="w b" textLength="52.6" lengthAdjust="spacingAndGlyphs">4.079,638</text>
<path d="M1754,508 H1818 a2,2 0 0 1 2,2 V523 a2,2 0 0 1 -2,2 H1754 Z" fill="#f23645"/>
<text x="1762" y="519.5" class="w b" textLength="52.6" lengthAdjust="spacingAndGlyphs">4.039,449</text>
<path d="M1754,527 H1818 a2,2 0 0 1 2,2 V542 a2,2 0 0 1 -2,2 H1754 Z" fill="#089981"/>
<text x="1762" y="538.8" class="w b" textLength="52.6" lengthAdjust="spacingAndGlyphs">4.024,648</text>
<g fill="none">
<circle cx="1726" cy="688.5" r="9.3" stroke="#9c27b0" stroke-width="1.6"/>
<path d="M1729.2,683 L1722,689.8 L1726,689.8 L1723.2,694.4 L1730.6,687.4 L1726.4,687.4 Z" fill="#9c27b0"/>
<circle cx="1733.3" cy="681.4" r="3.8" fill="#fff"/><circle cx="1733.3" cy="681.4" r="2.5" fill="#f23645"/>
<g clip-path="url(#flagc)"><circle cx="1746.9" cy="687.9" r="10.1" stroke="#f23645" stroke-width="1.7" fill="#fff"/>
<g clip-path="url(#flag)"><rect x="1736" y="677" width="24" height="22" fill="#fff"/>
<rect x="1736" y="679.2" width="24" height="3.4" fill="#ef5350"/>
<rect x="1736" y="685.9" width="24" height="3.4" fill="#ef5350"/>
<rect x="1736" y="692.7" width="24" height="3.4" fill="#ef5350"/>
<rect x="1736" y="677" width="12.9" height="12.5" fill="#2f8be6"/>
<rect x="1740.3" y="681.6" width="1.1" height="1.1" fill="#fff"/>
<rect x="1742.8" y="681.6" width="1.1" height="1.1" fill="#fff"/>
<rect x="1745.3" y="681.6" width="1.1" height="1.1" fill="#fff"/>
<rect x="1747.6" y="681.6" width="1.1" height="1.1" fill="#fff"/>
<rect x="1740.3" y="684.3" width="1.1" height="1.1" fill="#fff"/>
<rect x="1742.8" y="684.3" width="1.1" height="1.1" fill="#fff"/>
<rect x="1745.3" y="684.3" width="1.1" height="1.1" fill="#fff"/>
<rect x="1747.6" y="684.3" width="1.1" height="1.1" fill="#fff"/>
<rect x="1740.3" y="687" width="1.1" height="1.1" fill="#fff"/>
<rect x="1742.8" y="687" width="1.1" height="1.1" fill="#fff"/>
<rect x="1745.3" y="687" width="1.1" height="1.1" fill="#fff"/>
<rect x="1747.6" y="687" width="1.1" height="1.1" fill="#fff"/>
</g></g></g>
<rect x="10" y="741" width="1744" height="42.5" fill="#e9f4fe"/>
<g shape-rendering="crispEdges"><line x1="10" y1="741.5" x2="1754" y2="741.5" stroke="#6d7079" stroke-dasharray="6 4"/><line x1="10" y1="783.5" x2="1754" y2="783.5" stroke="#6d7079" stroke-dasharray="6 4"/><line x1="10" y1="762.5" x2="1754" y2="762.5" stroke="#b4b7bf" stroke-dasharray="6 4"/></g>
<polyline points="10.2,717.4 16.5,716.3 26.5,720.7 37.5,785 47.5,795.9 58.5,806.8 68.5,739.2 79.5,777.4 89.5,748.4 100.5,779.6 110.5,728.3 121.5,729.4 131.5,737.1 142.5,730.5 152.5,786.5 163.5,801.4 173.5,806.2 184.5,810.5 194.5,759.9 205.5,791.6 215.5,739.7 226.5,789.8 236.5,794.8 247.5,746.2 257.5,732.3 268.5,780.7 278.5,757.5 288.5,734.4 299.5,738.1 309.5,739.2 320.5,776.9 330.5,756 341.5,786.1 351.5,800.3 362.5,751.2 372.5,727.9 383.5,777.4 393.5,791.6 404.5,791.6 414.5,800.3 425.5,764.3 435.5,791.1 446.5,792 456.5,745.8 467.5,787.6 477.5,799.8 488.5,755.6 498.5,732 509.5,774.1 519.5,742.1 530.5,780.2 540.5,729 551.5,739.7 561.5,783.3 572.5,797.7 582.5,749.7 593.5,740.3 603.5,747.5 614.5,782.4 624.5,737.5 635.5,734.2 645.5,743.6 656.5,780.7 666.5,757.8 677.5,743.6 687.5,792.6 698.5,749.5 708.5,776.3 719.5,744.7 729.5,775.6 740.5,746.4 750.5,774.6 761.5,778.5 771.5,790.5 782.5,795.9 792.5,742.1 803.5,775.2 813.5,787.2 824.5,794.8 834.5,759.3 845.5,732.3 855.5,739.7 866.5,739.2 876.5,734.2 887.5,769.3 897.5,775.2 907.5,742.5 918.5,727.7 928.5,737.7 939.5,787.8 949.5,786.1 960.5,738.8 970.5,769.3 981.5,743.6 991.5,771.9 1002.5,747.3 1012.5,769.3 1023.5,727.7 1033.5,724.4 1044.5,730.5 1054.5,724 1065.5,724 1075.5,720.7 1086.5,717 1096.5,766 1107.5,747.5 1117.5,748 1128.5,790 1138.5,752.3 1149.5,750.6 1159.5,791.1 1170.5,746.4 1180.5,751.7 1191.5,718.5 1201.5,762.8 1212.5,766 1222.5,732.7 1233.5,727.2 1243.5,758.4 1254.5,789.4 1264.5,798.5 1275.5,744.7 1285.5,765 1296.5,785.4 1306.5,805.7 1317.5,740.3 1327.5,778 1338.5,757.3 1348.5,791.1 1359.5,743.6 1369.5,782.8 1380.5,753.8 1390.5,789.4 1401.5,793.7 1411.5,791.6 1422.5,740.3 1432.5,728.3 1443.5,735.5 1453.5,769.3 1464.5,780.2 1474.5,728.8 1485.5,731 1495.5,761.5 1506.5,792 1516.5,781.1 1526.5,753.8 1537.5,782.4 1547.5,781.1 1558.5,740.8 1568.5,778.5 1579.5,746.4 1589.5,776.7 1600.5,786.5 1610.5,790.9 1621.5,729 1631.5,738.8 1642.5,783.3 1652.5,793.3 1663.5,762.1 1673.5,731 1684.5,737.5 1694.5,725.7 1705.5,713.7 1715.5,730.5 1726.5,723.3" fill="none" stroke="#2962ff" stroke-width="1.1" stroke-linejoin="round" clip-path="url(#sub)"/>
<text x="18.5" y="720.7" textLength="82.2" lengthAdjust="spacingAndGlyphs">CRSI (3, 2, 100)</text>
<text x="108.6" y="720.7" textLength="29.2" lengthAdjust="spacingAndGlyphs" fill="#2962ff">86,14</text>
<text x="1762" y="734.3" textLength="29.4" lengthAdjust="spacingAndGlyphs">80,00</text>
<text x="1762" y="776.2" textLength="29.4" lengthAdjust="spacingAndGlyphs">40,00</text>
<text x="1762" y="818.1" textLength="22.9" lengthAdjust="spacingAndGlyphs">0,00</text>
<rect x="1754" y="716.3" width="43" height="16.4" rx="2" fill="#2962ff"/>
<text x="1762" y="727.9" class="w b" textLength="29.8" lengthAdjust="spacingAndGlyphs">86,14</text>
<text x="10.2" y="838.9" textLength="11.6" lengthAdjust="spacingAndGlyphs">17</text>
<text x="73" y="838.9" textLength="12.5" lengthAdjust="spacingAndGlyphs">20</text>
<text x="135.9" y="838.9" textLength="12.5" lengthAdjust="spacingAndGlyphs">21</text>
<text x="198.9" y="838.9" textLength="12.5" lengthAdjust="spacingAndGlyphs">22</text>
<text x="261.9" y="838.9" textLength="12.5" lengthAdjust="spacingAndGlyphs">23</text>
<text x="323.9" y="838.9" textLength="12.5" lengthAdjust="spacingAndGlyphs">24</text>
<text x="386.9" y="838.9" textLength="12.5" lengthAdjust="spacingAndGlyphs">26</text>
<text x="460.9" y="838.9" textLength="12.5" lengthAdjust="spacingAndGlyphs">28</text>
<text x="524" y="838.9" textLength="12.5" lengthAdjust="spacingAndGlyphs">29</text>
<text x="587" y="838.9" textLength="12.5" lengthAdjust="spacingAndGlyphs">30</text>
<text x="650" y="838.9" textLength="12.5" lengthAdjust="spacingAndGlyphs">31</text>
<text x="699.2" y="838.9" textLength="17.9" lengthAdjust="spacingAndGlyphs" class="b">Kas</text>
<text x="768.2" y="838.9" textLength="6" lengthAdjust="spacingAndGlyphs">4</text>
<text x="831.2" y="838.9" textLength="6" lengthAdjust="spacingAndGlyphs">5</text>
<text x="894.2" y="838.9" textLength="6" lengthAdjust="spacingAndGlyphs">6</text>
<text x="957.2" y="838.9" textLength="6" lengthAdjust="spacingAndGlyphs">7</text>
<text x="1017" y="838.9" textLength="12.5" lengthAdjust="spacingAndGlyphs">10</text>
<text x="1080" y="838.9" textLength="12.5" lengthAdjust="spacingAndGlyphs">11</text>
<text x="1143" y="838.9" textLength="12.5" lengthAdjust="spacingAndGlyphs">12</text>
<text x="1206" y="838.9" textLength="12.5" lengthAdjust="spacingAndGlyphs">13</text>
<text x="1269" y="838.9" textLength="12.5" lengthAdjust="spacingAndGlyphs">14</text>
<text x="1332" y="838.9" textLength="12.5" lengthAdjust="spacingAndGlyphs">17</text>
<text x="1395" y="838.9" textLength="12.5" lengthAdjust="spacingAndGlyphs">18</text>
<text x="1458" y="838.9" textLength="12.5" lengthAdjust="spacingAndGlyphs">19</text>
<text x="1520" y="838.9" textLength="12.5" lengthAdjust="spacingAndGlyphs">20</text>
<text x="1583" y="838.9" textLength="12.5" lengthAdjust="spacingAndGlyphs">21</text>
<text x="1646" y="838.9" textLength="12.5" lengthAdjust="spacingAndGlyphs">24</text>
<text x="1709" y="838.9" textLength="12.5" lengthAdjust="spacingAndGlyphs">25</text>
<g fill="#111"><path d="M12,871.2 H23.9 V885.8 H17.9 V877 H12 Z"/><circle cx="29" cy="874.1" r="2.9"/><path d="M34.3,871.2 H41.9 L36.9,885.8 H29 Z"/></g>
<text x="49" y="885.8" class="b" font-size="20.4" textLength="120.6" lengthAdjust="spacingAndGlyphs" fill="#111" stroke="#111" stroke-width="0.45">TradingView</text>
</svg></body></html>
